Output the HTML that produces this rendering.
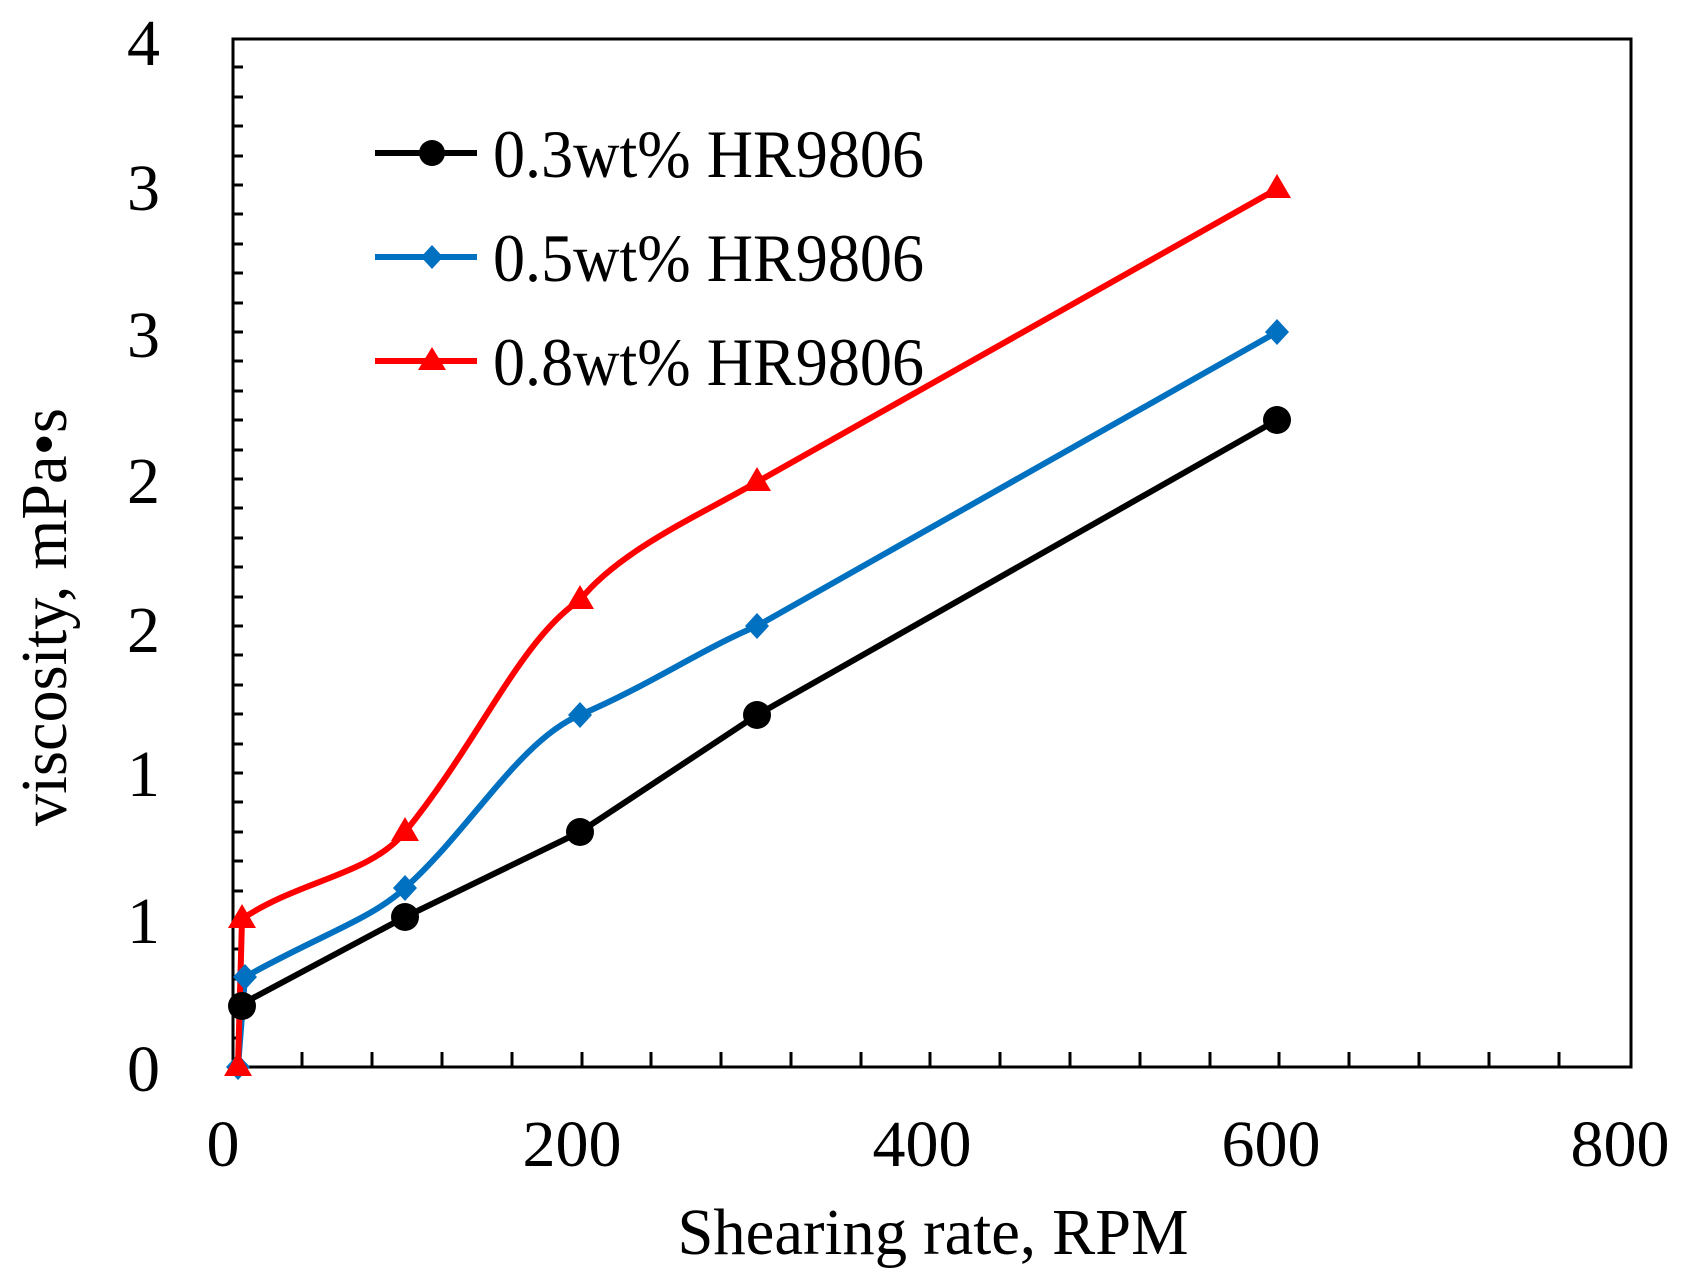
<!DOCTYPE html>
<html><head><meta charset="utf-8"><style>html,body{margin:0;padding:0;background:#fff}svg{display:block}</style></head>
<body>
<svg width="1682" height="1284" viewBox="0 0 1682 1284" xmlns="http://www.w3.org/2000/svg" font-family="Liberation Serif, serif">
<rect x="233" y="39" width="1398" height="1028" fill="none" stroke="#000" stroke-width="3"/>
<g stroke="#000" stroke-width="3">
<path d="M302,1067v-15M372,1067v-15M442,1067v-15M512,1067v-15M582,1067v-15M651,1067v-15M721,1067v-15M791,1067v-15M861,1067v-15M930,1067v-15M1000,1067v-15M1070,1067v-15M1140,1067v-15M1210,1067v-15M1279,1067v-15M1349,1067v-15M1419,1067v-15M1489,1067v-15M1559,1067v-15"/>
<path d="M233,1038h10M233,1008h10M233,979h10M233,949h10M233,920h10M233,891h10M233,861h10M233,832h10M233,802h10M233,773h10M233,744h10M233,714h10M233,685h10M233,655h10M233,626h10M233,597h10M233,567h10M233,538h10M233,508h10M233,479h10M233,450h10M233,420h10M233,391h10M233,361h10M233,332h10M233,303h10M233,273h10M233,244h10M233,214h10M233,185h10M233,156h10M233,126h10M233,97h10M233,67h10"/>
</g>
<g font-size="66" text-anchor="end">
<text x="160" y="65">4</text><text x="160" y="210">3</text><text x="160" y="357">3</text><text x="160" y="503">2</text><text x="160" y="652">2</text><text x="160" y="796">1</text><text x="160" y="943">1</text><text x="160" y="1091">0</text>
</g>
<g font-size="66" text-anchor="middle">
<text x="223" y="1166">0</text><text x="572" y="1166">200</text><text x="922" y="1166">400</text><text x="1271" y="1166">600</text><text x="1620" y="1166">800</text>
<text x="933" y="1254" textLength="511" lengthAdjust="spacingAndGlyphs">Shearing rate, RPM</text>
<text transform="translate(66,617) rotate(-90)" textLength="418" lengthAdjust="spacingAndGlyphs">viscosity, mPa•s</text>
</g>
<g fill="none" stroke-width="6" stroke-linejoin="round">
<polyline stroke="#000" points="238,1006 405,917 580,832 757,715 1277,420"/>
<path stroke="#0070c0" d="M238,1067 L245,977 C320,935 370,920 405,888 C470,830 520,740 580,715 C650,685 700,650 757,626 L1277,332"/>
<path stroke="#ff0000" d="M238,1067 L242,919 C300,880 370,875 405,832 C480,740 520,640 580,600 C620,550 700,515 757,482 L1277,189"/>
</g>
<g fill="#000"><circle cx="242" cy="1006" r="14"/><circle cx="405" cy="917" r="14"/><circle cx="580" cy="832" r="14"/><circle cx="757" cy="715" r="14"/><circle cx="1277" cy="420" r="14"/></g>
<g fill="#0070c0"><path d="M238,1054l12,13-12,13-12-13z"/><path d="M245,964l12,13-12,13-12-13z"/><path d="M405,875l12,13-12,13-12-13z"/><path d="M580,702l12,13-12,13-12-13z"/><path d="M757,613l12,13-12,13-12-13z"/><path d="M1277,319l12,13-12,13-12-13z"/></g>
<g fill="#ff0000"><path d="M238,1052l14,24h-28z"/><path d="M242,904l14,24h-28z"/><path d="M405,817l14,24h-28z"/><path d="M580,585l14,24h-28z"/><path d="M757,467l14,24h-28z"/><path d="M1277,174l14,24h-28z"/></g>
<g stroke-width="6"><line x1="375" y1="153" x2="477" y2="153" stroke="#000"/><line x1="375" y1="257" x2="477" y2="257" stroke="#0070c0"/><line x1="375" y1="361" x2="477" y2="361" stroke="#ff0000"/></g>
<circle cx="432" cy="153" r="13" fill="#000"/>
<path d="M432,245l11,12-11,12-11-12z" fill="#0070c0"/>
<path d="M432,347l14,23h-28z" fill="#ff0000"/>
<g font-size="68">
<text x="493" y="177" textLength="431" lengthAdjust="spacingAndGlyphs">0.3wt% HR9806</text>
<text x="493" y="281" textLength="431" lengthAdjust="spacingAndGlyphs">0.5wt% HR9806</text>
<text x="493" y="385" textLength="431" lengthAdjust="spacingAndGlyphs">0.8wt% HR9806</text>
</g>
</svg>
</body></html>
